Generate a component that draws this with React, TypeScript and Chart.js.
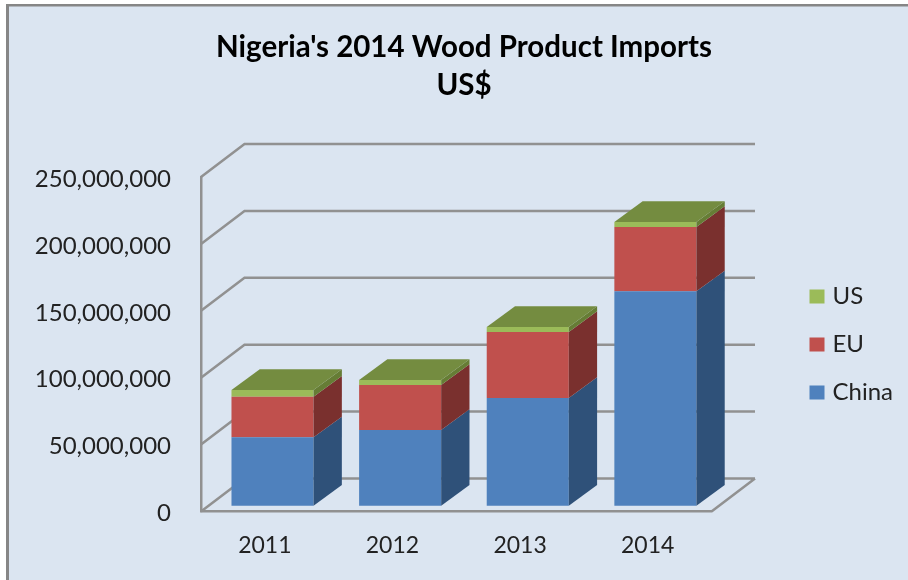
import { useEffect, useRef } from "react";
import { Chart, registerables } from "chart.js";

Chart.register(...registerables);

const years = ["2011", "2012", "2013", "2014"];
const china = [51100000, 56600000, 80500000, 160200000];
const eu = [30400000, 33600000, 49300000, 48100000];
const us = [5000000, 3800000, 3800000, 3700000];
const titleLines = ["Nigeria's 2014 Wood Product Imports", "US$"];
const frontColours = ["#4F81BD", "#C0504D", "#9BBB59"];
const sideColours = ["#2F5179", "#7A302E", "#667D35"];
const topColour = "#748C40";
const gridColour = "#919191";
const panelColour = "#DBE5F1";
const textColour = "#222222";
const fontFamily = "Lato";

// depth of the 3D box: the wall sits behind the front plane, bars sit part-way in
const wallDepth = { x: 43.5, y: 33 };
const barShift = { x: 7.7, y: 5.8 };
const barDepth = { x: 28.3, y: 20.7 };
const tickLabelDrop = 2;

const depthPlugin = {
  id: "depth",
  beforeDraw(chart: any) {
    const { ctx, width, height } = chart;
    ctx.save();
    ctx.fillStyle = "#FFFFFF";
    ctx.fillRect(0, 0, width, height);
    ctx.fillStyle = "#868686";
    ctx.fillRect(6, 4, width, height);
    ctx.fillStyle = panelColour;
    ctx.fillRect(9, 6.5, width, height);
    ctx.restore();
  },
  afterLayout(chart: any) {
    const title = chart.titleBlock;
    title.left = 0;
    title.right = 928;
    const legend = chart.legend;
    legend.left = 789.5;
    legend.right = 908;
    legend.top = 260.5;
    legend.bottom = 580;
    chart.scales.y.getLabelItems().forEach((item: any) => {
      item.options.translation[1] += tickLabelDrop;
    });
  },
  beforeDatasetsDraw(chart: any) {
    const { ctx, scales } = chart;
    const { x, y } = scales;
    ctx.save();
    ctx.strokeStyle = gridColour;
    ctx.lineWidth = 2.5;
    const left = x.left;
    const right = x.right;
    y.ticks.forEach((tick: any) => {
      const py = y.getPixelForValue(tick.value);
      ctx.beginPath();
      ctx.moveTo(left, py);
      ctx.lineTo(left + wallDepth.x, py - wallDepth.y);
      ctx.lineTo(right + wallDepth.x, py - wallDepth.y);
      if (tick.value === 0) {
        ctx.moveTo(right, py);
        ctx.lineTo(right + wallDepth.x, py - wallDepth.y);
      }
      ctx.stroke();
    });
    ctx.restore();
    ctx.save();
    ctx.translate(barShift.x, -barShift.y);
  },
  afterDatasetsDraw(chart: any) {
    const { ctx } = chart;
    const metas = chart.getSortedVisibleDatasetMetas();
    metas.forEach((meta: any, d: number) => {
      meta.data.forEach((bar: any) => {
        const { x, y, base, width } = bar.getProps(["x", "y", "base", "width"], true);
        const r = x + width / 2;
        const l = x - width / 2;
        ctx.fillStyle = sideColours[d];
        ctx.beginPath();
        ctx.moveTo(r, y);
        ctx.lineTo(r + barDepth.x, y - barDepth.y);
        ctx.lineTo(r + barDepth.x, base - barDepth.y);
        ctx.lineTo(r, base);
        ctx.closePath();
        ctx.fill();
        if (d === metas.length - 1) {
          ctx.fillStyle = topColour;
          ctx.beginPath();
          ctx.moveTo(l, y);
          ctx.lineTo(r, y);
          ctx.lineTo(r + barDepth.x, y - barDepth.y);
          ctx.lineTo(l + barDepth.x, y - barDepth.y);
          ctx.closePath();
          ctx.fill();
        }
      });
    });
    ctx.restore();
  },
};

export default function App() {
  const ref = useRef<HTMLCanvasElement>(null);
  useEffect(() => {
    document.body.style.margin = "0";
    const chart = new Chart(ref.current as HTMLCanvasElement, {
      type: "bar",
      data: {
        labels: years,
        datasets: [
          { label: "China", data: china, backgroundColor: frontColours[0] },
          { label: "EU", data: eu, backgroundColor: frontColours[1] },
          { label: "US", data: us, backgroundColor: frontColours[2] },
        ].map((d) => ({ ...d, borderWidth: 0, barPercentage: 0.643, categoryPercentage: 1, clip: false })),
      },
      options: {
        responsive: false,
        animation: false,
        layout: { padding: { left: 0, top: 0, bottom: 0, right: 196.5 } },
        scales: {
          x: {
            stacked: true,
            grid: { display: false },
            border: { display: true, color: gridColour, width: 2.5 },
            ticks: {
              color: textColour,
              font: { family: fontFamily, size: 23 },
              padding: 12,
              maxRotation: 0,
            },
            afterFit(scale: any) {
              scale.height = 68.5;
            },
          },
          y: {
            stacked: true,
            min: 0,
            max: 250000000,
            grid: { display: false },
            border: { display: true, color: gridColour, width: 2.5 },
            ticks: {
              color: textColour,
              stepSize: 50000000,
              font: { family: fontFamily, size: 24 },
              padding: 22,
              callback: (v: any) => Number(v).toLocaleString("en-US"),
            },
            afterFit(scale: any) {
              scale.width = 201;
            },
          },
        },
        plugins: {
          title: {
            display: true,
            text: titleLines,
            color: "#000000",
            font: { family: fontFamily, size: 29.5, weight: "bold", lineHeight: 38 / 29.5 },
            padding: { top: 28, bottom: 73 },
          },
          tooltip: { enabled: false },
          legend: {
            display: true,
            position: "chartArea" as any,
            align: "start",
            reverse: true,
            labels: {
              color: textColour,
              font: { family: fontFamily, size: 24 },
              padding: 24,
              boxWidth: 7,
              boxHeight: 6,
              generateLabels(c: any) {
                return Chart.defaults.plugins.legend.labels
                  .generateLabels(c)
                  .map((item: any) => ({ ...item, lineWidth: 8, strokeStyle: item.fillStyle }));
              },
            },
          },
        },
      },
      plugins: [depthPlugin],
    } as any);
    return () => chart.destroy();
  }, []);
  return <canvas ref={ref} width={908} height={580} style={{ display: "block" }} />;
}
